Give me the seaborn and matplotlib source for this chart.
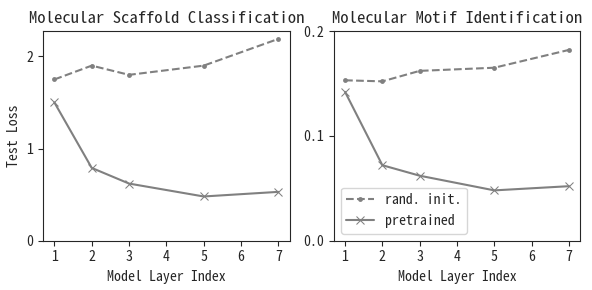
import matplotlib
matplotlib.use("Agg")
import matplotlib.pyplot as plt
import seaborn as sns
import pandas as pd

sns.set_style("ticks")
plt.rcParams['font.family'] = ['Noto Sans Mono CJK SC', 'DejaVu Sans Mono']

layers = [1, 2, 3, 5, 7]
scaffold_rand = [1.75, 1.90, 1.80, 1.90, 2.19]
scaffold_pre = [1.50, 0.79, 0.62, 0.48, 0.53]
motif_rand = [0.153, 0.152, 0.162, 0.165, 0.182]
motif_pre = [0.142, 0.072, 0.062, 0.048, 0.052]

fig, axes = plt.subplots(1, 2, figsize=(5.92, 2.9), dpi=100)

panels = [
    ("Molecular Scaffold Classification", scaffold_rand, scaffold_pre, [0, 1, 2]),
    ("Molecular Motif Identification", motif_rand, motif_pre, [0.0, 0.1, 0.2]),
]

for ax, (title, rand, pre, yt) in zip(axes, panels):
    sns.lineplot(x=layers, y=rand, ax=ax, color="grey", linestyle="--",
                 marker=".", markersize=7, markeredgewidth=0, label="rand. init.")
    sns.lineplot(x=layers, y=pre, ax=ax, color="grey", linestyle="-",
                 marker="x", markersize=6, markeredgecolor="grey", label="pretrained")
    ax.set_title(title, fontsize=12)
    ax.set_xlabel("Model Layer Index", fontsize=10)
    ax.set_xticks(range(1, 8))
    ax.set_yticks(yt)
    ax.set_ylim(bottom=0)
    ax.tick_params(labelsize=10)

axes[0].set_ylabel("Test Loss", fontsize=10)
axes[1].set_ylim(0, 0.2)
axes[0].get_legend().remove()
axes[1].legend(loc="lower left", fontsize=10)

plt.subplots_adjust(left=0.073, right=0.98, top=0.893, bottom=0.17, wspace=0.18)
fig.savefig("out.png", dpi=100)
